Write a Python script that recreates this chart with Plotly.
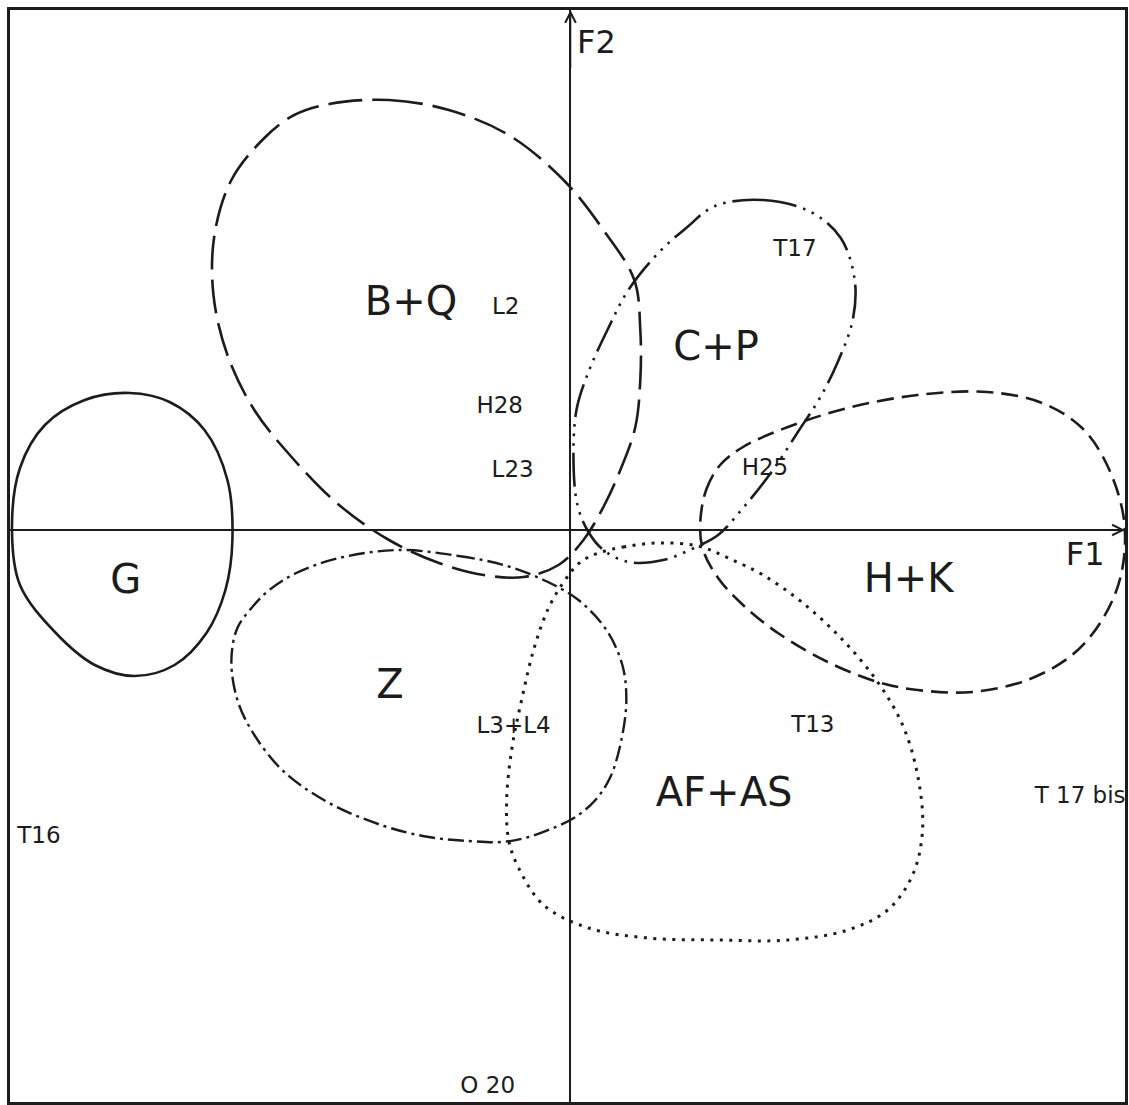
import plotly.graph_objects as go

# ---- Factor plane (F1 horizontal, F2 vertical) ----
F1_MIN, F1_MAX = -5.62, 5.56
F2_MIN, F2_MAX = -5.72, 5.20

# ---- Group envelopes: outline vertices in factor coordinates ----
G_f1 = [-3.39, -3.44, -3.67, -4.02, -4.42, -4.87, -5.27, -5.52, -5.60, -5.52, -5.17, -4.77, -4.37, -3.97, -3.65, -3.46]
G_f2 = [-0.10, 0.50, 1.00, 1.28, 1.37, 1.30, 1.05, 0.62, 0.00, -0.55, -1.02, -1.35, -1.46, -1.35, -1.03, -0.60]

BQ_f1 = [-2.42, -1.82, -1.22, -0.62, -0.07, 0.33, 0.64, 0.70, 0.70, 0.65, 0.50, 0.33, 0.13, -0.12, -0.47, -0.87, -1.32, -1.82, -2.32, -2.77, -3.17, -3.44, -3.58, -3.57, -3.40, -3.07, -2.77]
BQ_f2 = [4.26, 4.30, 4.20, 3.95, 3.50, 3.00, 2.50, 2.00, 1.50, 1.03, 0.60, 0.23, -0.10, -0.35, -0.47, -0.45, -0.33, -0.10, 0.25, 0.70, 1.20, 1.75, 2.35, 2.95, 3.50, 3.92, 4.15]

CP_f1 = [1.45, 1.93, 2.41, 2.71, 2.85, 2.83, 2.68, 2.50, 2.28, 2.03, 1.73, 1.48, 1.28, 0.93, 0.58, 0.33, 0.18, 0.07, 0.03, 0.06, 0.18, 0.38, 0.58, 0.88, 1.16]
CP_f2 = [3.24, 3.30, 3.18, 2.92, 2.50, 2.10, 1.68, 1.32, 0.98, 0.60, 0.22, -0.05, -0.16, -0.30, -0.32, -0.20, -0.02, 0.25, 0.70, 1.20, 1.58, 2.02, 2.40, 2.77, 3.02]

HK_f1 = [1.30, 1.36, 1.50, 1.73, 2.18, 2.78, 3.48, 4.18, 4.73, 5.13, 5.38, 5.55, 5.52, 5.33, 5.03, 4.58, 4.03, 3.48, 3.08, 2.58, 2.08, 1.73, 1.48, 1.33]
HK_f2 = [0.05, 0.40, 0.65, 0.83, 1.03, 1.22, 1.35, 1.38, 1.27, 1.02, 0.65, 0.10, -0.45, -0.90, -1.25, -1.50, -1.62, -1.60, -1.52, -1.32, -1.03, -0.75, -0.48, -0.20]

AFAS_f1 = [0.28, 0.53, 0.88, 1.28, 1.58, 1.93, 2.33, 2.73, 3.08, 3.33, 3.48, 3.53, 3.43, 3.18, 2.78, 2.18, 1.48, 0.78, 0.18, -0.27, -0.52, -0.62, -0.64, -0.59, -0.49, -0.37, -0.22, -0.04, 0.10]
AFAS_f2 = [-0.23, -0.17, -0.13, -0.16, -0.28, -0.45, -0.73, -1.10, -1.52, -1.95, -2.45, -3.00, -3.45, -3.80, -4.00, -4.10, -4.10, -4.08, -3.98, -3.75, -3.38, -3.10, -2.70, -2.20, -1.70, -1.20, -0.78, -0.48, -0.32]

Z_f1 = [-1.72, -1.12, -0.67, -0.27, 0.08, 0.36, 0.52, 0.56, 0.51, 0.40, 0.25, 0.05, -0.15, -0.42, -0.69, -1.02, -1.42, -1.87, -2.42, -2.87, -3.17, -3.34, -3.40, -3.34, -3.19, -3.02, -2.75, -2.32]
Z_f2 = [-0.20, -0.26, -0.35, -0.50, -0.70, -1.00, -1.35, -1.70, -2.10, -2.47, -2.70, -2.87, -2.97, -3.07, -3.12, -3.11, -3.07, -2.96, -2.73, -2.42, -2.05, -1.70, -1.30, -0.98, -0.77, -0.60, -0.43, -0.28]

# ---- Group names and where they are written ----
group_names = ["B+Q", "G", "Z", "C+P", "H+K", "AF+AS"]
group_f1 = [-1.60, -4.46, -1.81, 1.46, 3.39, 1.54]
group_f2 = [2.25, -0.53, -1.58, 1.80, -0.52, -2.66]

# ---- Individual observations ----
obs_names = ["L2", "H28", "L23", "L3+L4", "T16", "O 20", "T17", "H25", "T13", "T 17 bis"]
obs_f1 = [-0.65, -0.71, -0.58, -0.57, -5.33, -0.83, 2.25, 1.95, 2.43, 5.11]
obs_f2 = [2.22, 1.23, 0.59, -1.97, -3.07, -5.57, 2.80, 0.61, -1.96, -2.67]

# ---- Axis titles ----
axis_names = ["F2", "F1"]
axis_f1 = [0.26, 5.16]
axis_f2 = [4.85, -0.27]

INK = "#1c1c1c"

# line style of each envelope: (dash pattern, width)
envelopes = [
    (G_f1, G_f2, "solid", 2.6),
    (BQ_f1, BQ_f2, "34px,10px", 2.6),
    (CP_f1, CP_f2, "34px,7px,2.5px,7px,2.5px,7px,2.5px,7px", 2.6),
    (HK_f1, HK_f2, "17px,8px", 2.6),
    (AFAS_f1, AFAS_f2, "3px,6.5px", 3.0),
    (Z_f1, Z_f2, "16px,5px,3px,5px", 2.4),
]

fig = go.Figure()

for xs, ys, dash, width in envelopes:
    fig.add_trace(go.Scatter(
        x=list(xs) + [xs[0]],
        y=list(ys) + [ys[0]],
        mode="lines",
        line=dict(shape="spline", smoothing=1.0, color=INK, width=width, dash=dash),
        hoverinfo="skip",
        showlegend=False,
    ))

fig.add_trace(go.Scatter(
    x=group_f1, y=group_f2, mode="text", text=group_names,
    textposition="middle center",
    textfont=dict(family="DejaVu Sans", size=40, color=INK),
    hoverinfo="skip", showlegend=False,
))

fig.add_trace(go.Scatter(
    x=obs_f1, y=obs_f2, mode="text", text=obs_names,
    textposition="middle center",
    textfont=dict(family="DejaVu Sans", size=23, color=INK),
    hoverinfo="skip", showlegend=False,
))

fig.add_trace(go.Scatter(
    x=axis_f1, y=axis_f2, mode="text", text=axis_names,
    textposition="middle center",
    textfont=dict(family="DejaVu Sans", size=32, color=INK),
    hoverinfo="skip", showlegend=False,
))

axis_style = dict(
    showgrid=False, showticklabels=False, ticks="",
    zeroline=True, zerolinecolor=INK, zerolinewidth=1.8,
    showline=True, linecolor=INK, linewidth=2.6, mirror=True,
    fixedrange=True,
)

fig.update_layout(
    width=1129, height=1105,
    margin=dict(l=10, r=1, t=10, b=3),
    paper_bgcolor="white", plot_bgcolor="white",
    xaxis=dict(range=[F1_MIN, F1_MAX], **axis_style),
    yaxis=dict(range=[F2_MIN, F2_MAX], **axis_style),
    annotations=[
        # arrowheads at the positive ends of both factor axes
        dict(x=0, y=F2_MAX, ax=0, ay=F2_MAX - 0.6, xref="x", yref="y", axref="x", ayref="y",
             text="", showarrow=True, arrowhead=5, arrowsize=1.3, arrowwidth=1.6, arrowcolor=INK, standoff=0),
        dict(x=F1_MAX, y=0, ax=F1_MAX - 0.6, ay=0, xref="x", yref="y", axref="x", ayref="y",
             text="", showarrow=True, arrowhead=5, arrowsize=1.3, arrowwidth=1.6, arrowcolor=INK, standoff=0),
    ],
)

fig.write_html("out.html")
